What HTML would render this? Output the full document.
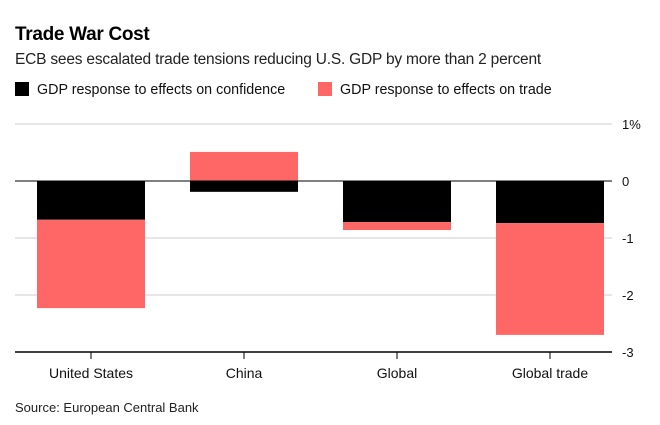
<!DOCTYPE html>
<html><head><meta charset="utf-8"><style>
body{margin:0;background:#fff;font-family:"Liberation Sans",sans-serif;}
#wrap{position:relative;width:660px;height:425px;overflow:hidden;}
</style></head><body>
<div id="wrap">
<div style="position:absolute;left:15px;top:24px;font-size:19px;font-weight:bold;letter-spacing:-0.3px">Trade War Cost</div>
<div style="position:absolute;left:15px;top:51px;font-size:15.5px;color:#222;letter-spacing:-0.2px">ECB sees escalated trade tensions reducing U.S. GDP by more than 2 percent</div>
<div style="position:absolute;left:15px;top:82px;font-size:14.3px;color:#111"><span style="display:inline-block;width:14px;height:14px;background:#000;vertical-align:-2px;margin-right:8px"></span>GDP response to effects on confidence</div>
<div style="position:absolute;left:318px;top:82px;font-size:14.3px;color:#111"><span style="display:inline-block;width:14px;height:14px;background:#ff6666;vertical-align:-2px;margin-right:8px"></span>GDP response to effects on trade</div>
<svg id="plot" width="660" height="425" style="position:absolute;left:0;top:0"></svg>
<div style="position:absolute;left:15px;top:400px;font-size:13px;color:#222">Source: European Central Bank</div>
</div>
<script>
const categories=["United States","China","Global","Global trade"];
const confidence=[-0.68,-0.19,-0.72,-0.74];
const trade=[-1.55,0.51,-0.14,-1.96];
const ticks=[1,0,-1,-2,-3];
const tickLabels=["1%","0","-1","-2","-3"];
const svg=document.getElementById('plot');
const NS='http://www.w3.org/2000/svg';
const y=v=>181-v*57;
const x0=15,x1=612;
const cx=i=>91+153*i;
function mk(t,a){const e=document.createElementNS(NS,t);for(const k in a)e.setAttribute(k,a[k]);svg.appendChild(e);return e;}
ticks.forEach((t,i)=>{
 if(t!==0&&t!==-3){const l=mk('line',{x1:x0,x2:x1,y1:y(t),y2:y(t),stroke:'#ddd','stroke-width':1.5});
 
 }
 const tx=mk('text',{x:622,y:y(t)+5,'font-size':13,fill:'#111','font-family':'Liberation Sans'});
 tx.textContent=tickLabels[i];
 
 
});
categories.forEach((c,i)=>{
 const w=108,bx=cx(i)-w/2;
 const c0=confidence[i];
 const r1=mk('rect',{x:bx,y:Math.min(y(0),y(c0)),width:w,height:Math.abs(y(c0)-y(0)),fill:'#000'});
 
 
 const t=trade[i];
 const base=(t<0&&c0<0)?c0:0;
 const r2=mk('rect',{x:bx,y:Math.min(y(base),y(base+t)),width:w,height:Math.abs(y(base+t)-y(base)),fill:'#ff6666'});
 
 
 const tk=mk('line',{x1:cx(i),x2:cx(i),y1:y(-3),y2:y(-3)+7,stroke:'#000','stroke-width':1});
 
 
 const lb=mk('text',{x:cx(i),y:378,'text-anchor':'middle','font-size':14,fill:'#111','font-family':'Liberation Sans'});
 lb.textContent=c;
 
 
});
const z=mk('line',{x1:x0,x2:x1,y1:y(0),y2:y(0),stroke:'#000','stroke-width':1});


const ax=mk('line',{x1:x0,x2:x1,y1:y(-3),y2:y(-3),stroke:'#000','stroke-width':1.5});


</script>
</body></html>
